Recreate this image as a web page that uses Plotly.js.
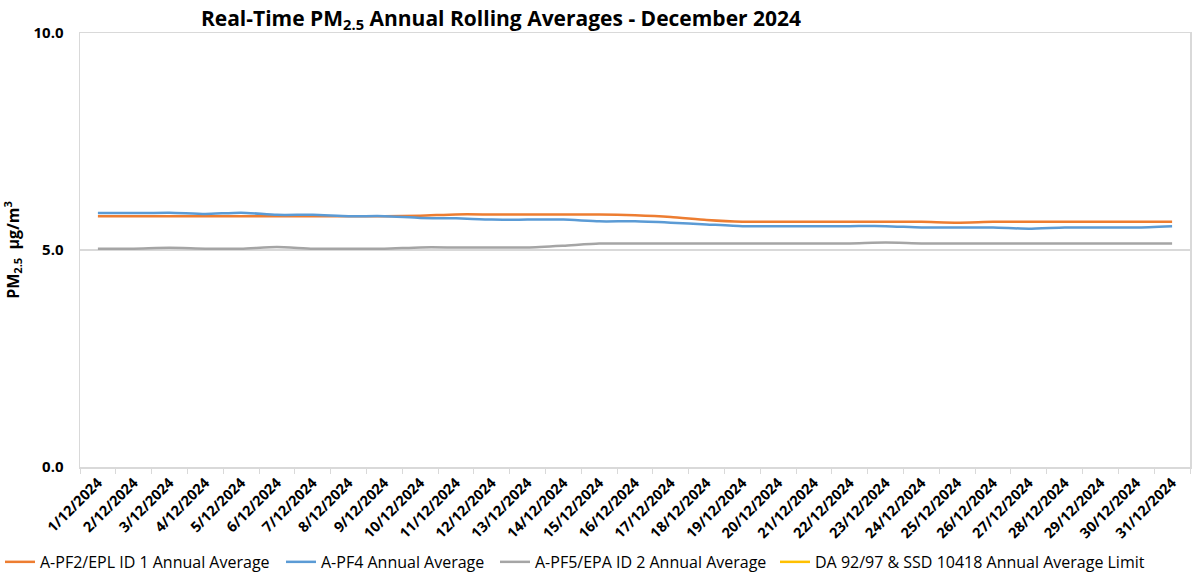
<!DOCTYPE html>
<html>
<head>
<meta charset="utf-8">
<script src="https://cdn.plot.ly/plotly-3.0.1.min.js"></script>
<style>html,body{margin:0;padding:0;background:#fff;}#chart{width:1192px;height:574px;}</style>
</head>
<body>
<div id="chart"></div>
<script>
const dates = ["1/12/2024","2/12/2024","3/12/2024","4/12/2024","5/12/2024","6/12/2024","7/12/2024","8/12/2024","9/12/2024","10/12/2024","11/12/2024","12/12/2024","13/12/2024","14/12/2024","15/12/2024","16/12/2024","17/12/2024","18/12/2024","19/12/2024","20/12/2024","21/12/2024","22/12/2024","23/12/2024","24/12/2024","25/12/2024","26/12/2024","27/12/2024","28/12/2024","29/12/2024","30/12/2024","31/12/2024"];
const pf2Values = [5.78,5.78,5.78,5.78,5.78,5.78,5.78,5.78,5.78,5.79,5.82,5.82,5.82,5.82,5.82,5.80,5.76,5.69,5.65,5.65,5.65,5.65,5.65,5.65,5.63,5.65,5.65,5.65,5.65,5.65,5.65];
const pf4Values = [5.85,5.85,5.86,5.83,5.86,5.81,5.81,5.78,5.78,5.74,5.73,5.70,5.70,5.70,5.66,5.66,5.63,5.59,5.55,5.55,5.55,5.55,5.55,5.52,5.52,5.52,5.49,5.52,5.52,5.52,5.55];
const pf5Values = [5.03,5.03,5.05,5.03,5.03,5.07,5.03,5.03,5.03,5.06,5.06,5.06,5.06,5.10,5.15,5.15,5.15,5.15,5.15,5.15,5.15,5.15,5.17,5.15,5.15,5.15,5.15,5.15,5.15,5.15,5.15];
const limitValues = [25,25,25,25,25,25,25,25,25,25,25,25,25,25,25,25,25,25,25,25,25,25,25,25,25,25,25,25,25,25,25];
const seriesNames = ["A-PF2/EPL ID 1 Annual Average","A-PF4 Annual Average","A-PF5/EPA ID 2 Annual Average","DA 92/97 &amp; SSD 10418 Annual Average Limit"];
const yTicks = [0,5,10];
const yTickLabels = ["0.0","5.0","10.0"];

const FONT = "Open Sans, sans-serif";
const colors = ["#ED7D31","#5B9BD5","#A5A5A5","#FFC000"];
const legendIds = ["legend","legend2","legend3","legend4"];
const legendX = [0, 281, 495, 775];
const allY = [pf2Values,pf4Values,pf5Values,limitValues];
const traces = allY.map((ys,i)=>({
  x: dates, y: ys, type:"scatter", mode:"lines", name: seriesNames[i], legend: legendIds[i],
  line:{color:colors[i], width:2.5, shape:"spline", smoothing:0.6}
}));

const layout = {
  width:1192, height:574,
  margin:{l:80,r:2,t:33,b:107},
  paper_bgcolor:"#fff", plot_bgcolor:"#fff",
  title:{text:"Real-Time PM<sub>2.5</sub> Annual Rolling Averages - December 2024",
    font:{family:FONT,size:21,color:"#000",weight:"bold"},
    x:501/1192, xref:"container", xanchor:"center", y:0.968, yref:"container", yanchor:"middle"},
  xaxis:{type:"category", range:[-0.5,30.5], automargin:false, showgrid:false, showline:true, mirror:true,
    linecolor:"#d9d9d9", linewidth:1.5, ticks:"outside", tickson:"boundaries", ticklen:5,
    tickcolor:"#d9d9d9", tickangle:-45, tickfont:{family:FONT,size:14.5,color:"#000",weight:"bold"}},
  yaxis:{range:[0,10], automargin:false, tickvals:yTicks, ticktext:yTickLabels, showgrid:true, gridcolor:"#d9d9d9",
    gridwidth:1.5, showline:true, mirror:true, linecolor:"#d9d9d9", linewidth:1.5, zeroline:false,
    ticks:"", ticklabelstandoff:12,
    tickfont:{family:FONT,size:15,color:"#000",weight:"bold"},
    title:{text:"PM<sub>2.5</sub>  µg/m<sup>3</sup>", font:{family:FONT,size:16,color:"#000",weight:"bold"}, standoff:10}},
  showlegend:true
};
legendIds.forEach((id,i)=>{
  layout[id] = {orientation:"h", x:legendX[i]/1192, xref:"container", xanchor:"left",
    y:0.021, yref:"container", yanchor:"middle", bgcolor:"rgba(0,0,0,0)",
    font:{family:FONT,size:16,color:"#000"}, itemwidth:30};
});
Plotly.newPlot("chart", traces, layout, {displayModeBar:false, staticPlot:true});
</script>
</body>
</html>
